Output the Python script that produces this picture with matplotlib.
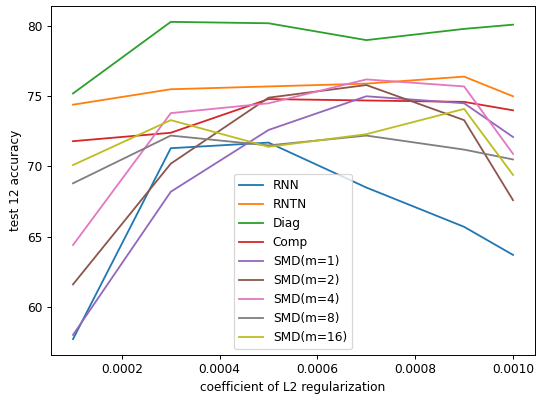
import matplotlib
matplotlib.use("Agg")
import matplotlib.pyplot as plt

x = [0.0001, 0.0003, 0.0005, 0.0007, 0.0009, 0.001]
labels = ["RNN", "RNTN", "Diag", "Comp", "SMD(m=1)", "SMD(m=2)", "SMD(m=4)", "SMD(m=8)", "SMD(m=16)"]
rnn = [57.7, 71.3, 71.7, 68.5, 65.7, 63.7]
rntn = [74.4, 75.5, 75.7, 75.9, 76.4, 75.0]
diag = [75.2, 80.3, 80.2, 79.0, 79.8, 80.1]
comp = [71.8, 72.4, 74.8, 74.7, 74.6, 74.0]
smd1 = [58.0, 68.2, 72.6, 75.0, 74.5, 72.1]
smd2 = [61.6, 70.2, 74.9, 75.8, 73.3, 67.6]
smd4 = [64.4, 73.8, 74.5, 76.2, 75.7, 70.9]
smd8 = [68.8, 72.2, 71.5, 72.2, 71.2, 70.5]
smd16 = [70.1, 73.3, 71.4, 72.3, 74.1, 69.4]
series = [rnn, rntn, diag, comp, smd1, smd2, smd4, smd8, smd16]

DPI = 87
fig = plt.figure(figsize=(536/DPI, 396/DPI), dpi=DPI)
ax = fig.add_axes([51/536, 41/396, 484/536, 349/396])
for s, lab in zip(series, labels):
    ax.plot(x, s, label=lab)
ax.set_xlabel("coefficient of L2 regularization")
ax.set_ylabel("test 12 accuracy")
ax.legend(loc="lower center")
fig.savefig("out.png", dpi=DPI)
